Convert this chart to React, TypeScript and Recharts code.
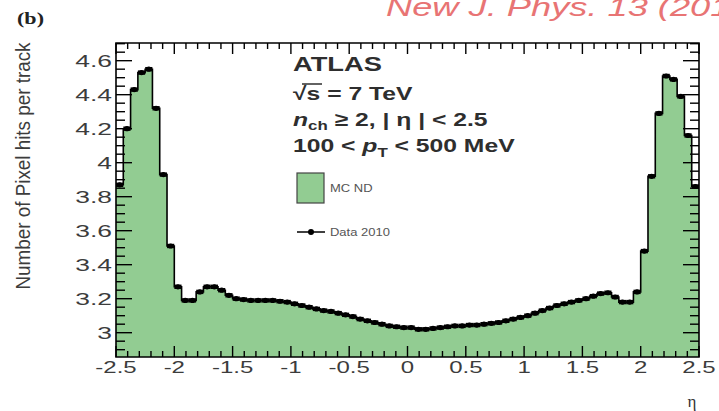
import React from 'react';
import { ComposedChart, Area, Scatter, XAxis, YAxis, ReferenceArea } from 'recharts';

// 80 bins of width 0.0625 in eta, from -2.5 to 2.5
const ETA_LO = -2.5;
const BIN_W = 0.0625;

// mean number of pixel hits per track, one value per bin (MC ND and Data 2010 overlap)
const hitsPerTrack = [
  3.87, 4.2, 4.43, 4.53, 4.55, 4.32, 3.93, 3.51, 3.27, 3.19,
  3.19, 3.24, 3.27, 3.27, 3.25, 3.22, 3.2, 3.195, 3.19, 3.19,
  3.19, 3.19, 3.185, 3.18, 3.17, 3.16, 3.15, 3.14, 3.13, 3.125,
  3.115, 3.105, 3.095, 3.08, 3.07, 3.06, 3.05, 3.04, 3.035, 3.03,
  3.03, 3.02, 3.02, 3.025, 3.03, 3.035, 3.04, 3.04, 3.045, 3.045,
  3.05, 3.055, 3.06, 3.07, 3.08, 3.09, 3.1, 3.115, 3.13, 3.145,
  3.16, 3.17, 3.18, 3.19, 3.2, 3.215, 3.23, 3.235, 3.21, 3.18,
  3.18, 3.24, 3.48, 3.92, 4.29, 4.51, 4.49, 4.39, 4.16, 3.86,
];

const xMajorTicks = [-2.5, -2, -1.5, -1, -0.5, 0, 0.5, 1, 1.5, 2, 2.5];
const yMajorTicks = [3, 3.2, 3.4, 3.6, 3.8, 4, 4.2, 4.4, 4.6];
const X_MINOR = 0.1;
const Y_MINOR = 0.05;
const Y_DOMAIN: [number, number] = [2.857, 4.704];

// step outline needs the bin edges, the last edge repeats the last bin
const mcTable = hitsPerTrack
  .map((v, i) => ({ x: ETA_LO + i * BIN_W, mc: v }))
  .concat([{ x: ETA_LO + hitsPerTrack.length * BIN_W, mc: hitsPerTrack[hitsPerTrack.length - 1] }]);
const dataPoints = hitsPerTrack.map((v, i) => ({ x: ETA_LO + (i + 0.5) * BIN_W, y: v }));

const xTicks: number[] = [];
for (let k = 0; k <= 50; k++) xTicks.push(Math.round((-2.5 + k * X_MINOR) * 10) / 10);
const yTicks: number[] = [];
for (let k = 0; k <= 36; k++) yTicks.push(Math.round((2.9 + k * Y_MINOR) * 100) / 100);

const W = 719;
const H = 411;
const PLOT_LEFT = 116;
const PLOT_RIGHT = 699;
const PLOT_TOP = 43;
const PLOT_BOTTOM = 357;
const GREEN = '#92cc92';
const LABEL = '#3c3c3c';
const SANS = '"Liberation Sans", Arial, sans-serif';

const isIn = (v: number, list: number[]) => list.some((m) => Math.abs(m - v) < 1e-6);

const XTick = (props: any) => {
  const { x, payload } = props;
  const major = isIn(payload.value, xMajorTicks);
  const len = major ? 11 : 6;
  return (
    <g>
      <line x1={x} x2={x} y1={PLOT_BOTTOM} y2={PLOT_BOTTOM - len} stroke="#000" strokeWidth={1.4} />
      <line x1={x} x2={x} y1={PLOT_TOP} y2={PLOT_TOP + len} stroke="#000" strokeWidth={1.4} />
      {major && (
        <g transform={`translate(${x},373) scale(1.5,1)`}>
          <text textAnchor="middle" fontSize={16} fill={LABEL} fontFamily={SANS}>
            {String(payload.value)}
          </text>
        </g>
      )}
    </g>
  );
};

const YTick = (props: any) => {
  const { y, payload } = props;
  const major = isIn(payload.value, yMajorTicks);
  const len = major ? 16 : 9;
  return (
    <g>
      <line x1={PLOT_LEFT} x2={PLOT_LEFT + len} y1={y} y2={y} stroke="#000" strokeWidth={1.4} />
      <line x1={PLOT_RIGHT} x2={PLOT_RIGHT - len} y1={y} y2={y} stroke="#000" strokeWidth={1.4} />
      {major && (
        <g transform={`translate(112,${y + 6}) scale(1.65,1)`}>
          <text textAnchor="end" fontSize={16} fill={LABEL} fontFamily={SANS}>
            {String(payload.value)}
          </text>
        </g>
      )}
    </g>
  );
};

const DataMarker = (props: any) => {
  const { cx, cy } = props;
  return (
    <g>
      <rect x={cx - 3.6} y={cy - 2.2} width={7.2} height={4.4} fill="#000" />
      <circle cx={cx} cy={cy} r={2.6} fill="#000" />
    </g>
  );
};

const App: React.FC = () => {
  return (
    <div style={{ position: 'absolute', left: 0, top: 0, width: W, height: H, background: '#fff' }}>
      <ComposedChart width={W} height={H} data={mcTable} margin={{ top: PLOT_TOP, right: W - PLOT_RIGHT, bottom: H - PLOT_BOTTOM - 30, left: 0 }}>
        <Area
          type="stepAfter"
          dataKey="mc"
          stroke="#000"
          strokeWidth={1.6}
          fill={GREEN}
          fillOpacity={1}
          isAnimationActive={false}
        />
        <Scatter data={dataPoints} dataKey="y" shape={<DataMarker />} isAnimationActive={false} />
        <ReferenceArea x1={-2.5} x2={2.5} y1={Y_DOMAIN[0]} y2={Y_DOMAIN[1]} fill="none" stroke="#000" strokeWidth={1.6} />
        <XAxis
          type="number"
          dataKey="x"
          domain={[-2.5, 2.5]}
          ticks={xTicks}
          interval={0}
          tick={<XTick />}
          tickLine={false}
          axisLine={false}
          height={30}
          allowDataOverflow
        />
        <YAxis
          type="number"
          domain={Y_DOMAIN}
          ticks={yTicks}
          interval={0}
          tick={<YTick />}
          tickLine={false}
          axisLine={false}
          width={PLOT_LEFT}
          allowDataOverflow
        />
      </ComposedChart>

      <svg width={W} height={H} style={{ position: 'absolute', left: 0, top: 0, pointerEvents: 'none' }}>
        <g transform="translate(17,24) scale(1.3,1)">
          <text fontFamily='"Liberation Serif", serif' fontWeight="bold" fontSize={17} fill="#222">(b)</text>
        </g>
        <g transform="translate(386,16) scale(1.45,1)">
          <text fontFamily={SANS} fontStyle="italic" fontSize={25} fill="#e87474">New J. Phys. 13 (2011)</text>
        </g>
        <g transform="translate(30,166) scale(1.3,1) rotate(-90)">
          <text textAnchor="middle" fontFamily={SANS} fontSize={15} fill={LABEL} textLength={247} lengthAdjust="spacingAndGlyphs">
            Number of Pixel hits per track
          </text>
        </g>
        <text x={692} y={407} textAnchor="middle" fontFamily='"Liberation Serif", serif' fontSize={17} fill="#333">η</text>

        <g fontFamily={SANS} fontWeight="bold" fill="#2e2e2e">
          <g transform="translate(293,71) scale(1.3,1)">
            <text fontSize={21}>ATLAS</text>
          </g>
          <g transform="translate(293,100) scale(1.3,1)">
            <text fontSize={19}>√s = 7 TeV</text>
          </g>
          <line x1={302} x2={322} y1={84} y2={84} stroke="#2e2e2e" strokeWidth={1.5} />
          <g transform="translate(293,126) scale(1.3,1)">
            <text fontSize={19}>
              <tspan fontStyle="italic">n</tspan>
              <tspan fontSize={13} dy={4}>ch</tspan>
              <tspan dy={-4}> ≥ 2, | η | &lt; 2.5</tspan>
            </text>
          </g>
          <g transform="translate(293,152) scale(1.3,1)">
            <text fontSize={19}>
              100 &lt; <tspan fontStyle="italic">p</tspan>
              <tspan fontSize={13} dy={5}>T</tspan>
              <tspan dy={-5}> &lt; 500 MeV</tspan>
            </text>
          </g>
        </g>

        <rect x={297} y={173} width={27} height={30} fill={GREEN} stroke="#444" strokeWidth={1.2} />
        <g transform="translate(330,192) scale(1.3,1)">
          <text fontFamily={SANS} fontSize={10} fill="#555">MC ND</text>
        </g>
        <line x1={297} x2={325} y1={232} y2={232} stroke="#000" strokeWidth={1.5} />
        <circle cx={311} cy={232} r={3} fill="#000" />
        <g transform="translate(330,236) scale(1.3,1)">
          <text fontFamily={SANS} fontSize={10} fill="#555">Data 2010</text>
        </g>
      </svg>
    </div>
  );
};

export default App;
